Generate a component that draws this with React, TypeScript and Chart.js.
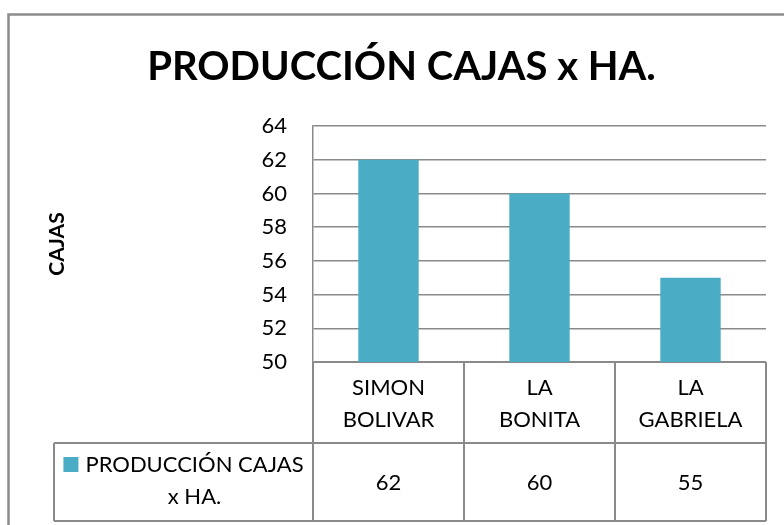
import React, { useEffect, useRef } from "react";
import { Chart, registerables } from "chart.js";

Chart.register(...registerables);

const chartTitle = "PRODUCCIÓN CAJAS x HA.";
const yAxisTitle = "CAJAS";
const categories: string[][] = [["SIMON", "BOLIVAR"], ["LA", "BONITA"], ["LA", "GABRIELA"]];
const seriesName = "PRODUCCIÓN CAJAS x HA.";
const legendLines = ["PRODUCCIÓN CAJAS", "x HA."];
const values = [62, 60, 55];
const yMin = 50;
const yMax = 64;
const yStep = 2;

const BAR_COLOR = "#4BACC6";
const LINE_COLOR = "#8a8a8a";
const FONT = "Lato, 'Open Sans', sans-serif";
const PAD_LEFT = 37;

const tablePlugin = {
  id: "dataTable",
  beforeDraw(chart: any) {
    const ctx = chart.ctx;
    ctx.save();
    ctx.fillStyle = "#ffffff";
    ctx.fillRect(0, 0, chart.width, chart.height);
    ctx.strokeStyle = "#8c8c8c";
    ctx.lineWidth = 2.5;
    ctx.strokeRect(8.5, 14.5, chart.width + 40, chart.height + 40);
    ctx.restore();
  },
  afterDraw(chart: any) {
    const ctx = chart.ctx;
    const ca = chart.chartArea;
    const xs = chart.scales.x;
    const n = values.length;
    const catW = (ca.right - ca.left) / n;
    const rowTop = xs.bottom;
    const rowBottom = rowTop + 78;
    const legendLeft = 54;
    ctx.save();
    ctx.strokeStyle = LINE_COLOR;
    ctx.lineWidth = 2;
    ctx.beginPath();
    for (let i = 0; i <= n; i++) {
      const x = Math.round(ca.left + i * catW);
      ctx.moveTo(x, ca.bottom);
      ctx.lineTo(x, rowBottom);
    }
    ctx.moveTo(legendLeft, rowTop);
    ctx.lineTo(ca.right, rowTop);
    ctx.moveTo(legendLeft, rowBottom);
    ctx.lineTo(ca.right, rowBottom);
    ctx.moveTo(legendLeft, rowTop);
    ctx.lineTo(legendLeft, rowBottom);
    ctx.stroke();

    ctx.fillStyle = "#000000";
    ctx.font = `22px ${FONT}`;
    ctx.textAlign = "center";
    ctx.textBaseline = "middle";
    const midY = (rowTop + rowBottom) / 2;
    values.forEach((v, i) => {
      ctx.fillText(String(v), ca.left + (i + 0.5) * catW, midY + 1);
    });

    // legend cell
    const maxW = Math.max(...legendLines.map((l) => ctx.measureText(l).width));
    const sq = 15;
    const gap = 7;
    const blockW = sq + gap + maxW;
    const cellCenter = (legendLeft + ca.left) / 2;
    const blockLeft = cellCenter - blockW / 2;
    const textCenter = blockLeft + sq + gap + maxW / 2;
    ctx.fillStyle = BAR_COLOR;
    ctx.fillRect(blockLeft, midY - 25, sq, sq);
    ctx.fillStyle = "#000000";
    ctx.fillText(legendLines[0], textCenter, midY - 17);
    ctx.fillText(legendLines[1], textCenter, midY + 15);
    ctx.restore();
  },
};

export default function App() {
  const ref = useRef<HTMLCanvasElement | null>(null);
  useEffect(() => {
    if (!ref.current) return;
    const chart = new Chart(ref.current, {
      type: "bar",
      data: {
        labels: categories,
        datasets: [
          {
            label: seriesName,
            data: values,
            backgroundColor: BAR_COLOR,
            borderWidth: 0,
            barPercentage: 0.4,
            categoryPercentage: 1,
          },
        ],
      },
      options: {
        responsive: false,
        animation: false,
        devicePixelRatio: 1,
        layout: { padding: { top: 0, left: PAD_LEFT, right: 18, bottom: 82 } },
        plugins: {
          legend: { display: false },
          tooltip: { enabled: false },
          title: {
            display: true,
            text: chartTitle,
            color: "#000000",
            font: { family: FONT, size: 40, weight: "bold", lineHeight: 1.2 },
            padding: { top: 43, bottom: 35 },
          },
        },
        scales: {
          x: {
            grid: { display: false, drawTicks: false },
            border: { display: true, color: LINE_COLOR, width: 1 },
            ticks: {
              color: "#000000",
              font: { family: FONT, size: 22, lineHeight: 1.45 },
              padding: 10,
              maxRotation: 0,
              autoSkip: false,
            },
            afterFit: (s: any) => {
              s.height = 81;
            },
          },
          y: {
            min: yMin,
            max: yMax,
            grid: { color: LINE_COLOR, lineWidth: 1.5, drawTicks: false },
            border: { display: true, color: LINE_COLOR, width: 1.5 },
            ticks: {
              stepSize: yStep,
              color: "#000000",
              font: { family: FONT, size: 22 },
              padding: 26,
            },
            title: {
              display: true,
              text: yAxisTitle,
              color: "#000000",
              font: { family: FONT, size: 21, weight: "bold", lineHeight: 1.2 },
              padding: { top: 8, bottom: 0 },
            },
            afterFit: (s: any) => {
              s.width = 313 - PAD_LEFT;
            },
          },
        },
      },
      plugins: [tablePlugin],
    });
    return () => chart.destroy();
  }, []);
  return (
    <div style={{ position: "fixed", left: 0, top: 0, width: 784, height: 525 }}>
      <canvas ref={ref} width={784} height={525} />
    </div>
  );
}
